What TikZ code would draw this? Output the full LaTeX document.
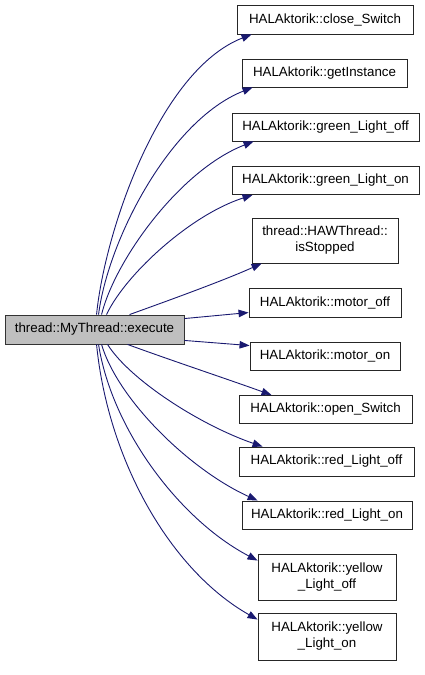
\documentclass[tikz,border=0pt]{standalone}
\usepackage{fontspec}
\setmainfont{Liberation Sans}
\usetikzlibrary{arrows.meta}
\definecolor{edgeblue}{HTML}{191970}
\definecolor{mainfill}{HTML}{BFBFBF}
\begin{document}
\begin{tikzpicture}[x=1pt,y=-1pt,
  box/.style={draw=black!85, line width=0.9pt, fill=white, inner sep=0pt, align=center,
    font=\fontsize{13.33}{16}\selectfont},
  mainbox/.style={box, fill=mainfill, draw=black!80},
  edge/.style={draw=edgeblue, line width=0.9pt, -{Triangle[length=10pt,width=7.5pt]}}
]
\useasboundingbox (0,0) rectangle (424,675);

\node[mainbox, minimum width=179pt, minimum height=29pt] (main) at (94.5,329.5) {thread::MyThread::execute};

\node[box, minimum width=176pt, minimum height=29pt] (cs) at (325,19.5) {HALAktorik::close\_Switch};
\node[box, minimum width=165pt, minimum height=28pt] (gi) at (324.5,73) {HALAktorik::getInstance};
\node[box, minimum width=187pt, minimum height=28pt] (gof) at (325.5,127) {HALAktorik::green\_Light\_off};
\node[box, minimum width=187pt, minimum height=28pt] (gon) at (325.5,180.5) {HALAktorik::green\_Light\_on};
\node[box, minimum width=146pt, minimum height=45pt] (hs) at (325,240.5) {thread::HAWThread::\\isStopped};
\node[box, minimum width=152pt, minimum height=29pt] (mof) at (325,302.5) {HALAktorik::motor\_off};
\node[box, minimum width=150pt, minimum height=28pt] (mon) at (325,356) {HALAktorik::motor\_on};
\node[box, minimum width=173pt, minimum height=28pt] (os) at (325.5,409.5) {HALAktorik::open\_Switch};
\node[box, minimum width=175pt, minimum height=29pt] (rof) at (326.5,461.5) {HALAktorik::red\_Light\_off};
\node[box, minimum width=170pt, minimum height=28pt] (ron) at (327,515) {HALAktorik::red\_Light\_on};
\node[box, minimum width=138pt, minimum height=46pt] (yof) at (327,577) {HALAktorik::yellow\\\_Light\_off};
\node[box, minimum width=138pt, minimum height=47pt] (yon) at (327,636.5) {HALAktorik::yellow\\\_Light\_on};

% upward edges
\draw[edge] ([xshift=92pt]main.north west) .. controls (105,230) and (160,70) .. ([xshift=15pt]cs.south west);
\draw[edge] ([xshift=94pt]main.north west) .. controls (108,240) and (170,120) .. ([xshift=11pt]gi.south west);
\draw[edge] ([xshift=97pt]main.north west) .. controls (115,260) and (180,170) .. ([xshift=22pt]gof.south west);
\draw[edge] ([xshift=102pt]main.north west) .. controls (125,275) and (190,215) .. ([xshift=21pt]gon.south west);
\draw[edge] ([xshift=125pt]main.north west) .. controls (170,300) and (225,280) .. ([xshift=10pt]hs.south west);
% side edges
\draw[edge] ([yshift=-4pt]main.north east) -- ([yshift=-25pt]mof.north west);
\draw[edge] ([yshift=4pt]main.south east) -- ([yshift=-4pt]mon.north west);
% downward edges
\draw[edge] ([xshift=123pt]main.south west) .. controls (170,360) and (230,380) .. ([xshift=33pt]os.north west);
\draw[edge] ([xshift=103pt]main.south west) .. controls (130,380) and (200,425) .. ([xshift=24pt]rof.north west);
\draw[edge] ([xshift=97pt]main.south west) .. controls (118,400) and (190,470) .. ([xshift=16pt]ron.north west);
\draw[edge] ([xshift=94pt]main.south west) .. controls (112,430) and (180,520) .. ([yshift=-7pt]yof.north west);
\draw[edge] ([xshift=92pt]main.south west) .. controls (108,460) and (170,570) .. ([yshift=-7pt]yon.north west);
\end{tikzpicture}
\end{document}
